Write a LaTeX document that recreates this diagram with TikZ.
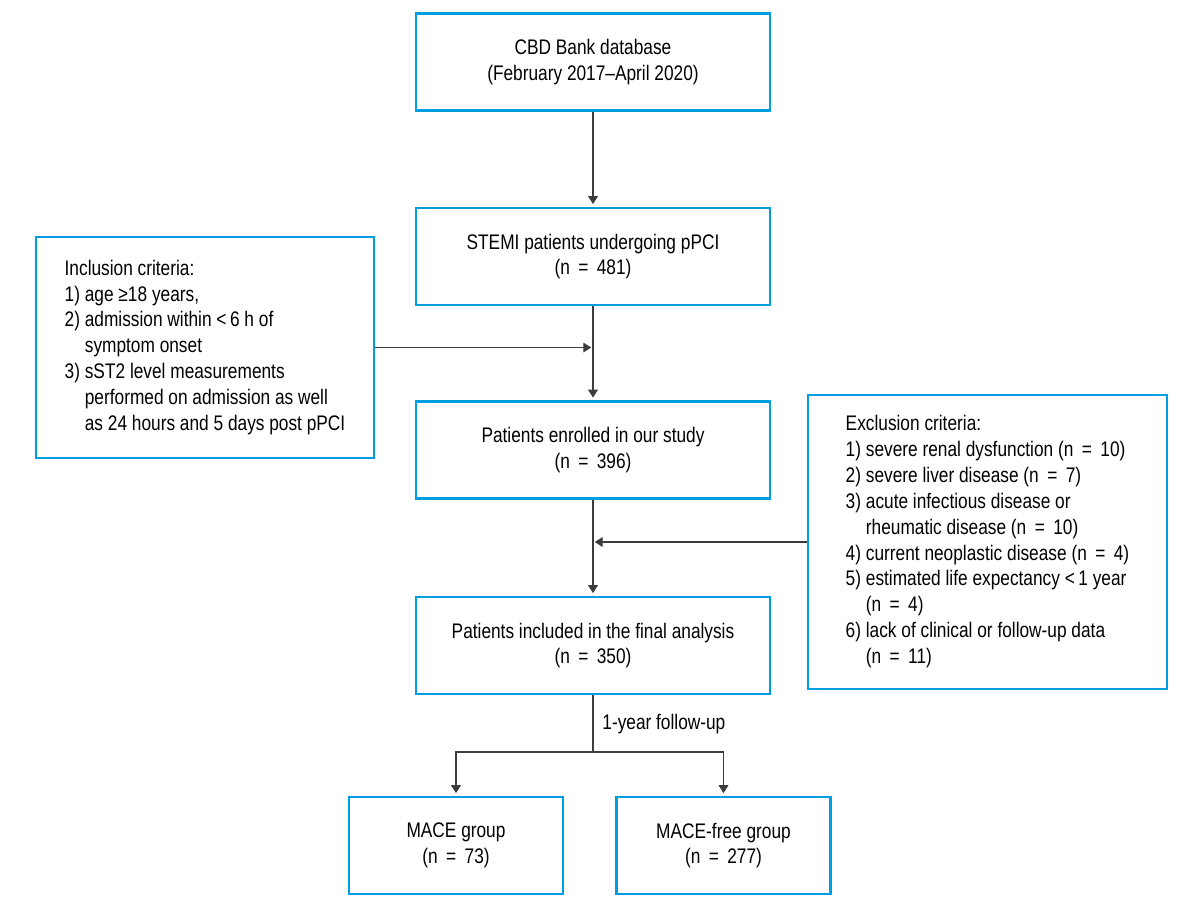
\documentclass[tikz,border=0pt]{standalone}
\usepackage{fontspec}
\setmainfont{Liberation Sans}[FakeStretch=0.82]
\usetikzlibrary{arrows.meta}
\definecolor{bl}{RGB}{0,158,224}
\definecolor{ln}{RGB}{60,60,60}
\newcommand{\eqs}{\hspace{0.4em}=\hspace{0.4em}}

\begin{document}
\begin{tikzpicture}[x=0.02cm, y=-0.02cm,
    >={Triangle[length=4.5pt,width=5.5pt]},
    font=\fontsize{12}{14.7}\selectfont,
    box/.style={draw=bl, line width=1.4pt, align=center,
        minimum width=7.08cm, minimum height=1.94cm, inner sep=0pt},
    grp/.style={box, minimum width=4.28cm},
    crit/.style={draw=bl, line width=1.4pt, inner sep=0pt},
    link/.style={ln, line width=0.7pt}]

\useasboundingbox (0,0) rectangle (1198,908);

% ════════════════════════════════════════════════
%  MAIN COLUMN
% ════════════════════════════════════════════════

\node[box] (cbd) at (593,62)
    {CBD Bank database\\(February 2017--April 2020)};
\node[box] (stemi) at (593,256.5)
    {STEMI patients undergoing pPCI\\(n\eqs 481)};
\node[box] (enrol) at (593,450)
    {Patients enrolled in our study\\(n\eqs 396)};
\node[box] (final) at (593,645.5)
    {Patients included in the final analysis\\(n\eqs 350)};

% Groups after follow-up
\node[grp] (mace) at (456,845.5) {MACE group\\(n\eqs 73)};
\node[grp] (free) at (723.5,845.5) {MACE-free group\\(n\eqs 277)};

% ════════════════════════════════════════════════
%  SIDE BOXES — criteria
% ════════════════════════════════════════════════

\node[crit, minimum width=6.76cm, minimum height=4.42cm] (incl) at (205,347.5)
    {\begin{tabular}{@{}l@{\ }l@{}}
    \multicolumn{2}{@{}l@{}}{Inclusion criteria:}\\
    1) & age ≥18 years,\\
    2) & admission within <\,6 h of\\
       & symptom onset\\
    3) & sST2 level measurements\\
       & performed on admission as well\\
       & as 24 hours and 5 days post pPCI
    \end{tabular}\hspace{0.1cm}};

\node[crit, minimum width=7.18cm, minimum height=5.88cm] (excl) at (987.5,542)
    {\begin{tabular}{@{}l@{\ }l@{}}
    \multicolumn{2}{@{}l@{}}{Exclusion criteria:}\\
    1) & severe renal dysfunction (n\eqs 10)\\
    2) & severe liver disease (n\eqs 7)\\
    3) & acute infectious disease or\\
       & rheumatic disease (n\eqs 10)\\
    4) & current neoplastic disease (n\eqs 4)\\
    5) & estimated life expectancy <\,1 year\\
       & (n\eqs 4)\\
    6) & lack of clinical or follow-up data\\
       & (n\eqs 11)
    \end{tabular}\hspace{0.35cm}};

% ════════════════════════════════════════════════
%  CONNECTORS
% ════════════════════════════════════════════════

\coordinate (split) at (593,752);

\draw[link,->,shorten >=1.5pt] (cbd) -- (stemi);
\draw[link,->,shorten >=1.5pt] (stemi) -- (enrol);
\draw[link,->,shorten >=1pt] (incl.east) -- (incl.east -| stemi.south);
\draw[link,->,shorten >=1pt] (excl.west) -- (excl.west -| enrol.south);
\draw[link,->,shorten >=1.5pt] (enrol) -- (final);
\draw[link] (final) -- node[right, inner sep=5pt, text=black] (fu)
    {1-year follow-up} (split);
\draw[link,->,shorten >=1.5pt] (split) -| (mace);
\draw[link,->,shorten >=1.5pt] (split) -| (free);

\end{tikzpicture}
\end{document}
